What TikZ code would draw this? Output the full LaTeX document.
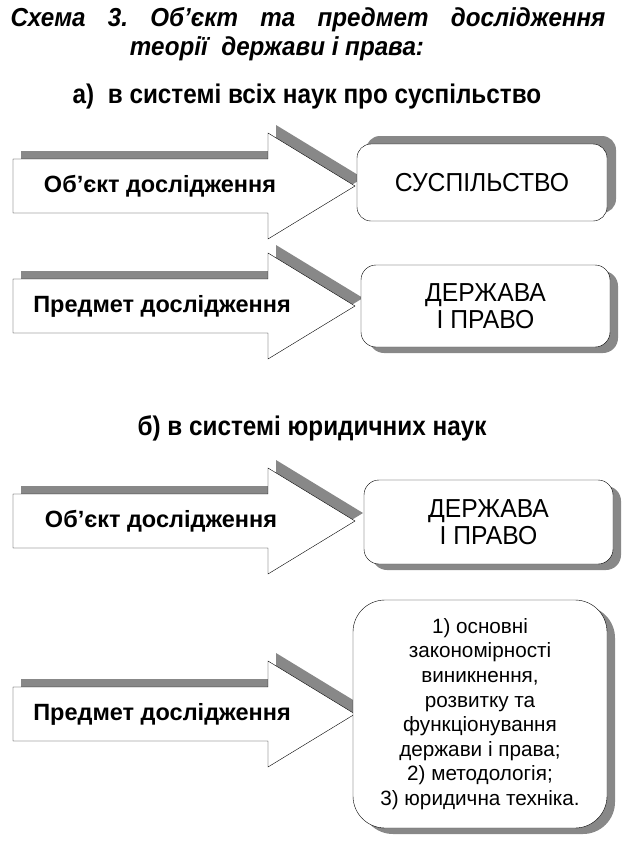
\documentclass[tikz,border=0pt]{standalone}
\usepackage{fontspec}
\setmainfont{Liberation Sans}
\newfontfamily\titlefont[FakeStretch=0.93]{Liberation Sans}
\newfontfamily\subfont[FakeStretch=0.9]{Liberation Sans}
\newfontfamily\boxfont[FakeStretch=0.95]{Liberation Sans}
\usetikzlibrary{positioning,shadows}
\definecolor{shadowgray}{HTML}{888888}

\newcommand{\bigarrow}[1]{%
  \fill[shadowgray,shift={(8,-8)}] (13,#1-27) -- (268,#1-27) -- (268,#1-53) -- (355,#1)
    -- (268,#1+53) -- (268,#1+27) -- (13,#1+27) -- cycle;
  \draw[fill=white] (13,#1-27) -- (268,#1-27) -- (268,#1-53) -- (355,#1)
    -- (268,#1+53) -- (268,#1+27) -- (13,#1+27) -- cycle;}

\tikzset{
  arrowtext/.style={font=\bfseries\fontsize{23.5}{24}\selectfont,inner sep=0pt},
  subtitle/.style={font=\subfont\bfseries\fontsize{27}{27}\selectfont,inner sep=0pt},
  titletext/.style={font=\titlefont\bfseries\itshape\fontsize{26}{26}\selectfont,inner sep=0pt},
  roundbox/.style={draw,fill=white,rounded corners=14pt,align=center,inner sep=0pt,
    font=\boxfont\fontsize{26}{27}\selectfont},
  shadow down/.style={drop shadow={shadow xshift=8pt,shadow yshift=-6pt,fill=shadowgray,opacity=1}},
  shadow up/.style={drop shadow={shadow xshift=9pt,shadow yshift=8pt,fill=shadowgray,opacity=1}}
}

\begin{document}
\frenchspacing
\begin{tikzpicture}[x=1pt,y=-1pt]
  \useasboundingbox (0,0) rectangle (623,865);
  \node[titletext] (title1) at (308,20)
    {\makebox[595pt][s]{Схема 3. Об’єкт та предмет дослідження}};
  \node[titletext] (title2) at (277,49) {теорії\ \ держави і права:};

  \node[subtitle] (suba) at (307,97) {а)\ \ в системі всіх наук про суспільство};

  \bigarrow{186}
  \node[arrowtext] (obj1) at (160,186) {Об’єкт дослідження};
  \node[roundbox,shadow up,minimum width=250pt,minimum height=77pt] (society) at (482,182.5)
    {СУСПІЛЬСТВО};

  \bigarrow{306}
  \node[arrowtext] (subj1) at (162,306) {Предмет дослідження};
  \node[roundbox,shadow down,rounded corners=15pt,minimum width=249pt,minimum height=82pt] (state1) at (485.5,306)
    {ДЕРЖАВА\\І ПРАВО};

  \node[subtitle] (subb) at (312,428) {б) в системі юридичних наук};

  \bigarrow{521}
  \node[arrowtext] (obj2) at (161,521) {Об’єкт дослідження};
  \node[roundbox,shadow down,rounded corners=15pt,minimum width=249pt,minimum height=84pt] (state2) at (488.5,522)
    {ДЕРЖАВА\\І ПРАВО};

  \bigarrow{714}
  \node[arrowtext] (subj2) at (162,714) {Предмет дослідження};
  \node[roundbox,shadow down,rounded corners=32pt,minimum width=254pt,minimum height=228pt,
    font=\fontsize{20.7}{24.6}\selectfont] (subject) at (480,714)
    {1) основні\\закономірності\\виникнення,\\розвитку та\\функціонування\\держави і права;\\2) методологія;\\3) юридична техніка.};
\end{tikzpicture}
\end{document}
